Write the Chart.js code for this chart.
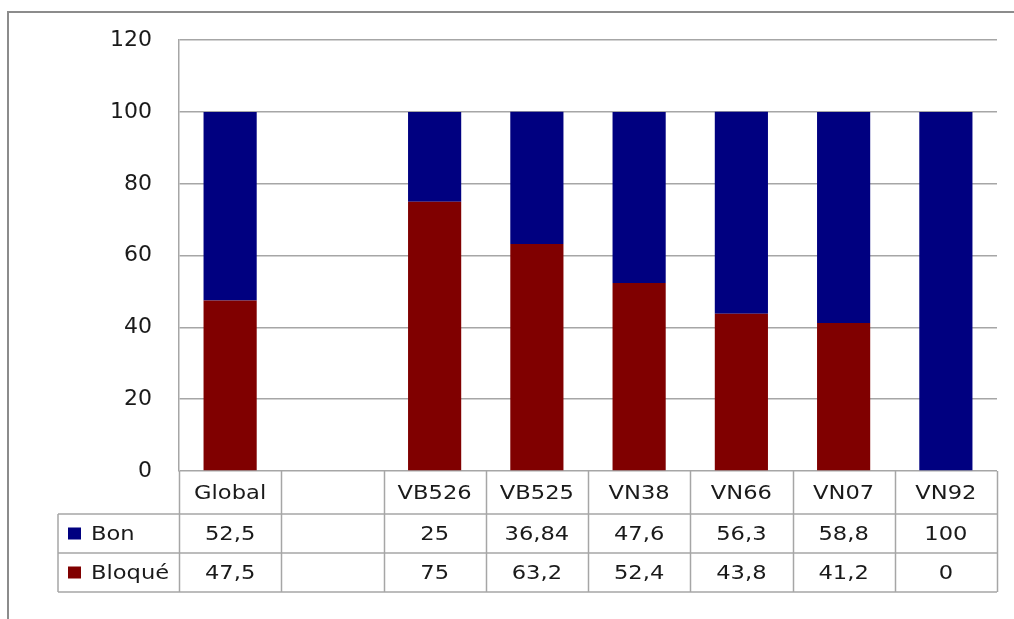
<!DOCTYPE html>
<html>
<head>
<meta charset="utf-8">
<script src="https://cdn.jsdelivr.net/npm/chart.js@4"></script>
<style>
  html, body { margin: 0; padding: 0; background: #fff; }
  #wrap { width: 1014px; height: 619px; }
</style>
</head>
<body>
<div id="wrap"><canvas id="graphique"></canvas></div>
<script>
// --------------------------- Données -----------------------------------
const categories = ['Global', '', 'VB526', 'VB525', 'VN38', 'VN66', 'VN07', 'VN92'];
const valeursBon = [52.5, null, 25, 36.84, 47.6, 56.3, 58.8, 100];
const valeursBloque = [47.5, null, 75, 63.2, 52.4, 43.8, 41.2, 0];
const tableBon = ['52,5', '', '25', '36,84', '47,6', '56,3', '58,8', '100'];
const tableBloque = ['47,5', '', '75', '63,2', '52,4', '43,8', '41,2', '0'];

const couleurBon = '#000080';
const couleurBloque = '#800000';
const gris = '#a6a6a6';
const police = '"DejaVu Sans", Verdana, sans-serif';

// texte un peu étiré en largeur, comme dans l'original
function texteEtire(ctx, txt, x, y, align) {
    const etirement = 1.13;
    ctx.save();
    ctx.translate(x, y);
    ctx.scale(etirement, 1);
    ctx.textAlign = align;
    ctx.fillText(txt, 0, 0);
    ctx.restore();
}

// ---------------------------- Cadre + tableau de données ------------------------------------
const tableauPlugin = {
    id: 'tableau',
    beforeDraw(chart) {
        const ctx = chart.ctx;
        ctx.save();
        ctx.fillStyle = '#fff';
        ctx.fillRect(0, 0, chart.width, chart.height);
        ctx.strokeStyle = '#8c8c8c';
        ctx.lineWidth = 2;
        ctx.beginPath();
        ctx.moveTo(8, chart.height);
        ctx.lineTo(8, 12);
        ctx.lineTo(chart.width, 12);
        ctx.stroke();
        ctx.restore();
    },
    afterDraw(chart) {
        const ctx = chart.ctx;
        const x = chart.scales.x;
        const area = chart.chartArea;
        const n = categories.length;
        const pas = (area.right - area.left) / n;
        const y0 = area.bottom;
        const y1 = y0 + 43;
        const y2 = y1 + 39;
        const y3 = y2 + 39;
        const gauche = 58;

        ctx.save();
        ctx.strokeStyle = gris;
        ctx.lineWidth = 1.5;
        ctx.beginPath();
        ctx.moveTo(gauche, y1); ctx.lineTo(area.right, y1);
        ctx.moveTo(gauche, y2); ctx.lineTo(area.right, y2);
        ctx.moveTo(gauche, y3); ctx.lineTo(area.right, y3);
        ctx.moveTo(gauche, y1); ctx.lineTo(gauche, y3);
        for (let i = 0; i <= n; i++) {
            const xi = Math.round(area.left + i * pas) + 0.5;
            ctx.moveTo(xi, y0); ctx.lineTo(xi, y3);
        }
        ctx.stroke();

        ctx.fillStyle = '#1a1a1a';
        ctx.font = '20px ' + police;
        ctx.textBaseline = 'middle';
        categories.forEach((c, i) => {
            const cx = x.getPixelForValue(i);
            texteEtire(ctx, c, cx, (y0 + y1) / 2 + 1, 'center');
            texteEtire(ctx, tableBon[i], cx, (y1 + y2) / 2 + 1, 'center');
            texteEtire(ctx, tableBloque[i], cx, (y2 + y3) / 2 + 1, 'center');
        });

        // légende dans le tableau
        ctx.fillStyle = couleurBon;
        ctx.fillRect(68, (y1 + y2) / 2 - 6, 13, 12);
        ctx.fillStyle = couleurBloque;
        ctx.fillRect(68, (y2 + y3) / 2 - 6, 13, 12);
        ctx.fillStyle = '#1a1a1a';
        texteEtire(ctx, 'Bon', 91, (y1 + y2) / 2 + 1, 'left');
        texteEtire(ctx, 'Bloqué', 91, (y2 + y3) / 2 + 1, 'left');
        ctx.restore();
    }
};

// ---------------------------- Graphique ------------------------------------
new Chart(document.getElementById('graphique'), {
    type: 'bar',
    data: {
        labels: categories,
        datasets: [{
            label: 'Bloqué',
            data: valeursBloque,
            backgroundColor: couleurBloque,
            categoryPercentage: 1,
            barPercentage: 0.52
        }, {
            label: 'Bon',
            data: valeursBon,
            backgroundColor: couleurBon,
            categoryPercentage: 1,
            barPercentage: 0.52
        }]
    },
    options: {
        responsive: true,
        maintainAspectRatio: false,
        animation: false,
        layout: { padding: { top: 40, right: 17, bottom: 148, left: 0 } },
        plugins: {
            legend: { display: false },
            tooltip: { enabled: false }
        },
        scales: {
            x: {
                stacked: true,
                display: false
            },
            y: {
                stacked: true,
                min: 0,
                max: 120,
                afterFit(scale) { scale.width = 179; },
                border: { display: true, color: gris, width: 1.5 },
                grid: { color: gris, lineWidth: 1.5, drawTicks: false },
                ticks: {
                    stepSize: 20,
                    padding: 27,
                    color: '#1a1a1a',
                    font: { family: police, size: 22 }
                }
            }
        }
    },
    plugins: [tableauPlugin]
});
</script>
</body>
</html>
